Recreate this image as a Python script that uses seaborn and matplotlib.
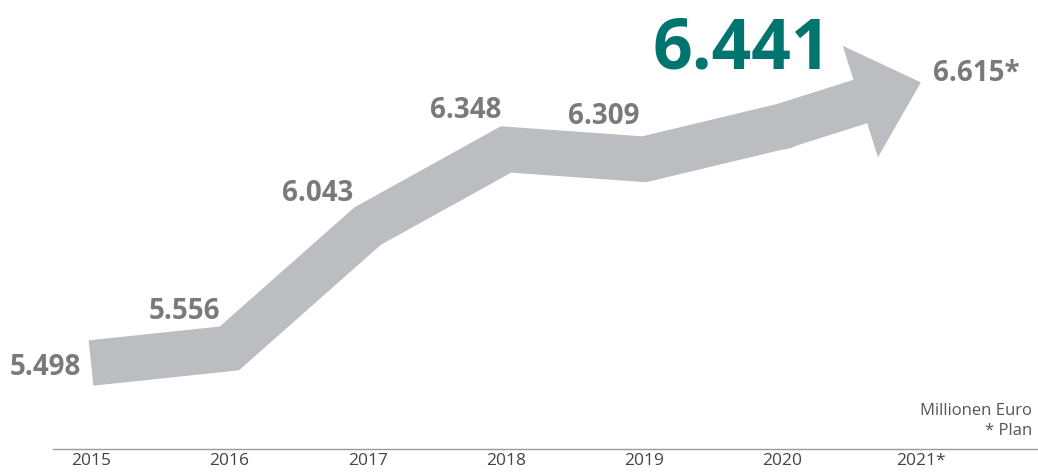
import matplotlib
matplotlib.use("Agg")
import matplotlib.pyplot as plt
import seaborn as sns

years = [2015, 2016, 2017, 2018, 2019, 2020, 2021]
values = [5.498, 5.556, 6.043, 6.348, 6.309, 6.441, 6.615]
value_labels = ["5.498", "5.556", "6.043", "6.348", "6.309", "6.441", "6.615*"]
year_labels = ["2015", "2016", "2017", "2018", "2019", "2020", "2021*"]

band_color = "#bcbdc1"
label_gray = "#7a7a7e"
teal = "#00756f"

sns.set_theme(style="white")
plt.rcParams["font.family"] = ["Open Sans", "DejaVu Sans"]

fig = plt.figure(figsize=(10.38, 4.76), dpi=100)
ax = fig.add_axes([53 / 1038, 27 / 476, 985 / 1038, 449 / 476])

# thick band up to 2020, arrow for the plan year
sns.lineplot(x=years[:-1], y=values[:-1], ax=ax, color=band_color,
             linewidth=32.8, solid_joinstyle="miter", solid_capstyle="butt")
ax.plot(years[-2], values[-2], marker="o", ms=32.8, color=band_color, mec="none")
ax.annotate("", xy=(years[-1], values[-1]), xytext=(years[-2], values[-2]),
            arrowprops=dict(arrowstyle="simple,head_length=0.457,head_width=0.842,tail_width=0.328",
                            mutation_scale=100, color=band_color, lw=0,
                            shrinkA=0, shrinkB=0))

# value labels: (dx, dy) in points, alignment
offsets = [(-7, -8.6, "right"), (-32.4, 20.9, "center"), (-36, 18, "center"),
           (-28.8, 22.7, "center"), (-29.5, 25.2, "center"), (-29.5, 41.8, "center"),
           (8.6, 0.7, "left")]
for i, (yr, v, txt) in enumerate(zip(years, values, value_labels)):
    dx, dy, ha = offsets[i]
    big = yr == 2020
    ax.annotate(txt, xy=(yr, v), xytext=(dx, dy), textcoords="offset points",
                ha=ha, va="baseline", fontweight="bold",
                fontsize=50 if big else 20, color=teal if big else label_gray)

ax.set_xlim(2014.725, 2021.847)
ax.set_ylim(5.1556, 6.943)
ax.set_xticks(years)
ax.set_xticklabels(year_labels, fontsize=12.5, color="#444444")
ax.tick_params(axis="x", length=0, pad=3)
ax.set_yticks([])
for s in ["top", "left", "right"]:
    ax.spines[s].set_visible(False)
ax.spines["bottom"].set_color("#9a9a9a")
ax.spines["bottom"].set_linewidth(1.0)

fig.text(1032 / 1038, 61 / 476, "Millionen Euro", ha="right", va="baseline",
         fontsize=12, color="#555555")
fig.text(1032 / 1038, 41 / 476, "* Plan", ha="right", va="baseline",
         fontsize=12, color="#555555")

fig.savefig("out.png", dpi=100)
